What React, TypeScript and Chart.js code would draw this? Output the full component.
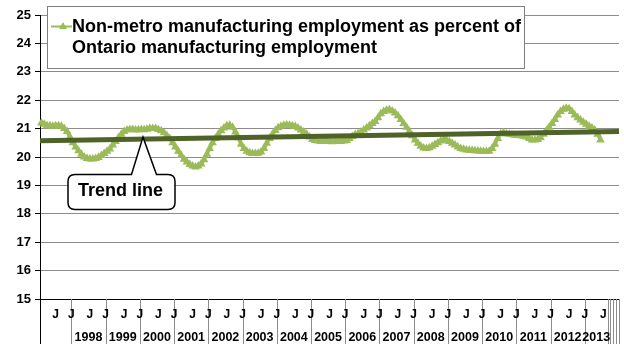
import React, { useEffect, useRef } from 'react';
import { Chart, registerables } from 'chart.js';

Chart.register(...registerables);

// ---- Data ----
const LEGEND_LINES = ['Non-metro manufacturing employment as percent of', 'Ontario manufacturing employment'];
const CALLOUT_TEXT = 'Trend line';

// Monthly share (%), Feb 1997 .. Jun 2013
const SHARE = [
  21.2, 21.15, 21.1, 21.1, 21.08, 21.1, 21.1, 21.08, 21.0, 20.9,
  20.7, 20.5, 20.35, 20.22, 20.1, 20.0, 19.95, 19.93, 19.93, 19.95,
  19.98, 20.05, 20.12, 20.2, 20.28, 20.42, 20.55, 20.68, 20.8, 20.9,
  20.95, 20.97, 20.97, 20.95, 20.96, 20.97, 20.96, 20.98, 21.0, 21.0,
  21.0, 20.97, 20.92, 20.85, 20.75, 20.65, 20.5, 20.35, 20.2, 20.05,
  19.92, 19.82, 19.74, 19.68, 19.65, 19.68, 19.75, 19.9, 20.1, 20.3,
  20.5, 20.65, 20.8, 20.92, 21.02, 21.1, 21.12, 21.05, 20.88, 20.68,
  20.45, 20.3, 20.2, 20.15, 20.12, 20.12, 20.13, 20.18, 20.3, 20.48,
  20.65, 20.8, 20.93, 21.03, 21.08, 21.12, 21.13, 21.12, 21.1, 21.07,
  21.02, 20.95, 20.88, 20.8, 20.7, 20.62, 20.58, 20.56, 20.55, 20.55,
  20.56, 20.55, 20.54, 20.55, 20.56, 20.55, 20.56, 20.58, 20.65, 20.72,
  20.78, 20.82, 20.88, 20.95, 21.02, 21.1, 21.18, 21.25, 21.38, 21.52,
  21.6, 21.65, 21.66, 21.62, 21.55, 21.45, 21.32, 21.18, 21.05, 20.9,
  20.75, 20.6, 20.48, 20.38, 20.32, 20.3, 20.33, 20.38, 20.44, 20.5,
  20.56, 20.6, 20.6, 20.55, 20.48, 20.42, 20.35, 20.3, 20.27, 20.25,
  20.24, 20.23, 20.22, 20.21, 20.2, 20.19, 20.19, 20.2, 20.3, 20.45,
  20.65, 20.82, 20.85, 20.82, 20.8, 20.78, 20.77, 20.76, 20.75, 20.73,
  20.7, 20.65, 20.6, 20.6, 20.62, 20.68, 20.8, 20.92, 21.05, 21.18,
  21.32, 21.48, 21.6, 21.68, 21.72, 21.7, 21.6, 21.48, 21.38, 21.3,
  21.22, 21.15, 21.08, 21.02, 20.95, 20.8, 20.6,
];

// Trend line end values (left edge, right edge)
const TREND = [20.57, 20.9];

const Y_MIN = 15;
const Y_MAX = 25;
const Y_STEP = 1;

const YEAR_LABELS = ['1998', '1999', '2000', '2001', '2002', '2003', '2004', '2005', '2006', '2007', '2008', '2009', '2010', '2011', '2012', '2013'];

// Category axis: Feb 1997 .. Aug 2013, then 4 empty slots
const FIRST_YEAR = 1997;
const FIRST_MONTH = 2;
const MONTH_COUNT = 199;
const EMPTY_SLOTS = 4;
const CATEGORIES: string[] = [];
for (let i = 0; i < MONTH_COUNT; i++) {
  const t = FIRST_MONTH - 1 + i;
  const y = FIRST_YEAR + Math.floor(t / 12);
  const m = (t % 12) + 1;
  CATEGORIES.push(`${y}-${m < 10 ? '0' : ''}${m}`);
}
for (let i = 0; i < EMPTY_SLOTS; i++) CATEGORIES.push('');

const FONT = '"Liberation Sans", Arial, Helvetica, sans-serif';
const GREEN = '#9BBB59';
const DARK = '#4F6228';
const GRID = '#8c8c8c';

const monthAxisPlugin = {
  id: 'monthAxis',
  afterDraw(chart: any) {
    const { ctx, chartArea, scales } = chart;
    const xs = scales.x;
    const w = xs.getPixelForValue(1) - xs.getPixelForValue(0);
    const edge = (i: number) => xs.getPixelForValue(i) - w / 2;
    const bottom = chart.height;
    const top = chartArea.bottom;
    ctx.save();
    ctx.lineWidth = 1;
    const vline = (x: number, color: string) => {
      const px = Math.round(x) + 0.5;
      ctx.strokeStyle = color;
      ctx.beginPath();
      ctx.moveTo(px, top);
      ctx.lineTo(px, bottom);
      ctx.stroke();
    };
    // separators
    CATEGORIES.forEach((c, i) => {
      if (c === '' || c.endsWith('-01')) vline(edge(i), GRID);
    });
    vline(chartArea.right - 0.5, GRID);
    vline(chartArea.left - 0.5, '#000');

    // J labels
    ctx.fillStyle = '#000';
    ctx.font = `bold 12px ${FONT}`;
    ctx.textAlign = 'center';
    ctx.textBaseline = 'middle';
    CATEGORIES.forEach((c, i) => {
      if (c.endsWith('-01')) ctx.fillText('J', edge(i), top + 16);
      else if (c.endsWith('-07')) ctx.fillText('J', xs.getPixelForValue(i), top + 16);
    });
    // year labels
    ctx.font = `bold 12.5px ${FONT}`;
    YEAR_LABELS.forEach((yr) => {
      let first = -1;
      let last = -1;
      CATEGORIES.forEach((c, i) => {
        if (c.startsWith(yr)) {
          if (first < 0) first = i;
          last = i;
        }
      });
      if (first < 0) return;
      const cx = (edge(first) + edge(last + 1)) / 2;
      ctx.fillText(yr, cx, top + 39);
    });
    ctx.restore();
  },
};

const overlayPlugin = {
  id: 'overlay',
  afterDraw(chart: any) {
    const { ctx, scales } = chart;
    ctx.save();
    // Legend box
    const bx = 47.5, by = 6.5, bw = 477, bh = 62;
    ctx.fillStyle = '#fff';
    ctx.fillRect(bx, by, bw, bh);
    ctx.strokeStyle = '#7f7f7f';
    ctx.lineWidth = 1;
    ctx.strokeRect(bx, by, bw, bh);
    // marker
    ctx.strokeStyle = GREEN;
    ctx.lineWidth = 2;
    ctx.beginPath();
    ctx.moveTo(51, 26.5);
    ctx.lineTo(72, 26.5);
    ctx.stroke();
    ctx.fillStyle = GREEN;
    ctx.beginPath();
    ctx.moveTo(63, 22);
    ctx.lineTo(67, 29);
    ctx.lineTo(59, 29);
    ctx.closePath();
    ctx.fill();
    ctx.fillStyle = '#000';
    ctx.font = `bold 18px ${FONT}`;
    ctx.textAlign = 'left';
    ctx.textBaseline = 'middle';
    ctx.fillText(LEGEND_LINES[0], 72, 27);
    ctx.fillText(LEGEND_LINES[1], 72, 48);

    // Callout
    const xt = scales.xt;
    const ys = scales.y;
    const apexX = 143;
    const frac = (apexX - xt.left) / (xt.right - xt.left);
    const apexY = ys.getPixelForValue(TREND[0] + (TREND[1] - TREND[0]) * frac) - 2;
    const l = 68, r = 175, t = 174.5, b = 209.5, rad = 7;
    const p1 = 131.5, p2 = 156.5;
    ctx.beginPath();
    ctx.moveTo(l + rad, t);
    ctx.lineTo(p1, t);
    ctx.lineTo(apexX, apexY);
    ctx.lineTo(p2, t);
    ctx.lineTo(r - rad, t);
    ctx.quadraticCurveTo(r, t, r, t + rad);
    ctx.lineTo(r, b - rad);
    ctx.quadraticCurveTo(r, b, r - rad, b);
    ctx.lineTo(l + rad, b);
    ctx.quadraticCurveTo(l, b, l, b - rad);
    ctx.lineTo(l, t + rad);
    ctx.quadraticCurveTo(l, t, l + rad, t);
    ctx.closePath();
    ctx.fillStyle = '#fff';
    ctx.fill();
    ctx.strokeStyle = '#000';
    ctx.lineWidth = 1.5;
    ctx.stroke();
    ctx.fillStyle = '#000';
    ctx.font = `bold 18px ${FONT}`;
    ctx.textAlign = 'center';
    ctx.textBaseline = 'middle';
    ctx.fillText(CALLOUT_TEXT, 120.5, 191.5);
    ctx.restore();
  },
};

function ChartView() {
  const ref = useRef<HTMLCanvasElement | null>(null);
  useEffect(() => {
    document.body.style.margin = '0';
    const canvas = ref.current;
    if (!canvas) return;
    const chart = new Chart(canvas, {
      type: 'line',
      data: {
        labels: CATEGORIES,
        datasets: [
          {
            label: 'Trend line',
            data: [
              { x: 0, y: TREND[0] },
              { x: 1, y: TREND[1] },
            ] as any,
            xAxisID: 'xt',
            borderColor: DARK,
            borderWidth: 5,
            pointRadius: 0,
            order: 0,
            clip: false as any,
          },
          {
            label: LEGEND_LINES.join(' '),
            data: SHARE,
            xAxisID: 'x',
            borderColor: GREEN,
            backgroundColor: GREEN,
            borderWidth: 3.5,
            pointStyle: 'triangle',
            pointRadius: 5,
            pointBorderWidth: 0,
            pointBackgroundColor: GREEN,
            tension: 0,
            order: 1,
            clip: false as any,
          },
        ],
      },
      options: {
        animation: false,
        responsive: false,
        layout: { padding: { top: 15, right: 3, left: 0, bottom: 0 } },
        plugins: { legend: { display: false }, tooltip: { enabled: false } },
        scales: {
          x: {
            type: 'category',
            offset: true,
            grid: { display: false, drawTicks: false },
            border: { display: true, color: '#000', width: 1 },
            ticks: { display: false },
            afterFit: (s: any) => {
              s.height = 45;
            },
          },
          xt: {
            type: 'linear',
            display: false,
            min: 0,
            max: 1,
          },
          y: {
            min: Y_MIN,
            max: Y_MAX,
            ticks: {
              stepSize: Y_STEP,
              color: '#000',
              padding: 4,
              font: { family: FONT, size: 13, weight: 'bold' },
            },
            grid: { color: GRID, tickLength: 5, tickColor: '#000' },
            border: { color: '#000', width: 1 },
            afterFit: (s: any) => {
              s.width = 40;
            },
          },
        },
      },
      plugins: [monthAxisPlugin, overlayPlugin],
    });
    return () => chart.destroy();
  }, []);
  return <canvas ref={ref} width={624} height={344} style={{ display: 'block', width: 624, height: 344 }} />;
}

export default function App() {
  return <ChartView />;
}
